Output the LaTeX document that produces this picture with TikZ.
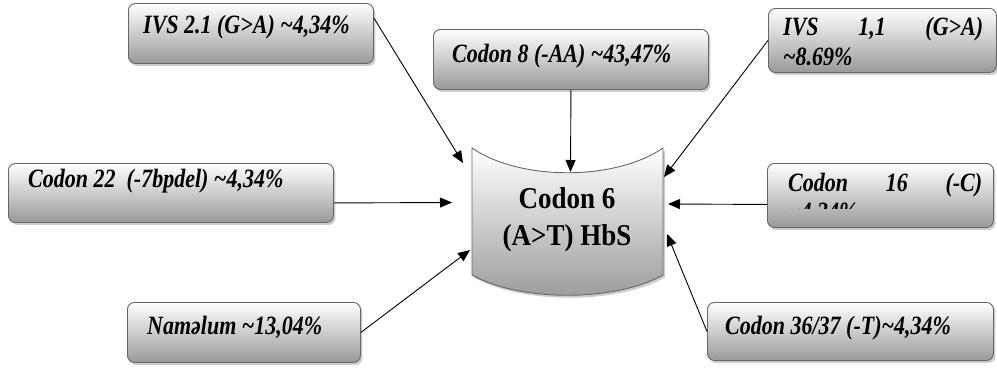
\documentclass[tikz,border=0pt]{standalone}
\usepackage{fontspec}
\usepackage{graphicx}
\setmainfont{Liberation Serif}
\usetikzlibrary{shadows,arrows.meta,calc}
\newcommand{\vstr}[1]{\scalebox{1}[1.2]{#1}}
\newcommand{\vstrc}[1]{\scalebox{1}[1.12]{#1}}
\begin{document}
\begin{tikzpicture}[x=1pt,y=-1pt,
  mbox/.style={draw=black!60, line width=0.9pt, rounded corners=7pt,
    top color=white, bottom color=black!40,
    drop shadow={shadow xshift=2pt,shadow yshift=-2.5pt,fill=black!40},
    inner sep=0pt, anchor=north west},
  mtxt/.style={font=\fontsize{22}{26}\selectfont\bfseries\itshape, anchor=base west, inner sep=0pt},
  ctxt/.style={font=\fontsize{27}{37}\selectfont\bfseries, anchor=base, inner sep=0pt},
  arr/.style={-{Triangle[length=12pt,width=10pt]}, line width=0.9pt, draw=black}]
\useasboundingbox (0,0) rectangle (997,370);

% boxes
\node[mbox, minimum width=245pt, minimum height=60pt] (b1) at (128,3) {};
\node[mtxt] (t1) at (143,33) {\vstr{IVS 2.1 (G>A) \textasciitilde4,34\%}};

\node[mbox, minimum width=275pt, minimum height=60pt] (b2) at (433,29) {};
\node[mtxt] (t2) at (452,62) {\vstr{Codon 8 (-AA) \textasciitilde43,47\%}};

\node[mbox, minimum width=228pt, minimum height=64pt] (b3) at (768,8) {};
\begin{scope}
  \clip (770,10) rectangle (995,64);
  \node[mtxt] (t3a) at (783,35) {\vstr{\makebox[200pt][s]{IVS 1,1 (G>A)}}};
  \node[mtxt] (t3b) at (783,65) {\vstr{\textasciitilde8.69\%}};
\end{scope}

\node[mbox, minimum width=325pt, minimum height=59pt] (b4) at (8,163) {};
\node[mtxt] (t4) at (28,187) {\vstr{Codon 22\ \ (-7bpdel) \textasciitilde4,34\%}};

\node[mbox, minimum width=226pt, minimum height=64pt] (b6) at (767,163) {};
\begin{scope}
  \clip (770,165) rectangle (991,208);
  \node[mtxt] (t6a) at (788,191) {\vstr{\makebox[194pt][s]{Codon 16 (-C)}}};
  \node[mtxt] (t6b) at (788,220) {\vstr{\textasciitilde4,34\%}};
\end{scope}

\node[mbox, minimum width=233pt, minimum height=60pt] (b7) at (127,302) {};
\node[mtxt] (t7) at (147,334) {\vstr{Naməlum \textasciitilde13,04\%}};

\node[mbox, minimum width=286pt, minimum height=58pt] (b8) at (707,302) {};
\node[mtxt] (t8) at (725,334) {\vstr{Codon 36/37 (-T)\textasciitilde4,34\%}};

% central cylinder-like shape
\path[draw=black!60, line width=0.9pt, top color=white, bottom color=black!40,
  drop shadow={shadow xshift=2pt,shadow yshift=-2.5pt,fill=black!40}]
  (472,148) .. controls (520,181) and (615,181) .. (663,148)
  -- (663,275) .. controls (615,302) and (520,302) .. (472,275) -- cycle;
\node[ctxt] (c1) at (567,208) {\vstrc{Codon 6}};
\node[ctxt] (c2) at (567,245) {\vstrc{(A>T) HbS}};

% arrow tips
\coordinate (p1) at (463,163);
\coordinate (p2) at (570.5,172);
\coordinate (p3) at (664,177);
\coordinate (p4) at (452,202.5);
\coordinate (p6) at (668,204);
\coordinate (p7) at (470,250);
\coordinate (p8) at (667,234);

\draw[arr] ($(b1.north east)+(0,15)$) -- (p1);
\draw[arr] (b2.south) -- (p2);
\draw[arr] (b3.west) -- (p3);
\draw[arr] ($(b4.east)+(0,10)$) -- (p4);
\draw[arr] ($(b6.west)+(0,9)$) -- (p6);
\draw[arr] (b7.east) -- (p7);
\draw[arr] (b8.west) -- (p8);
\end{tikzpicture}
\end{document}
